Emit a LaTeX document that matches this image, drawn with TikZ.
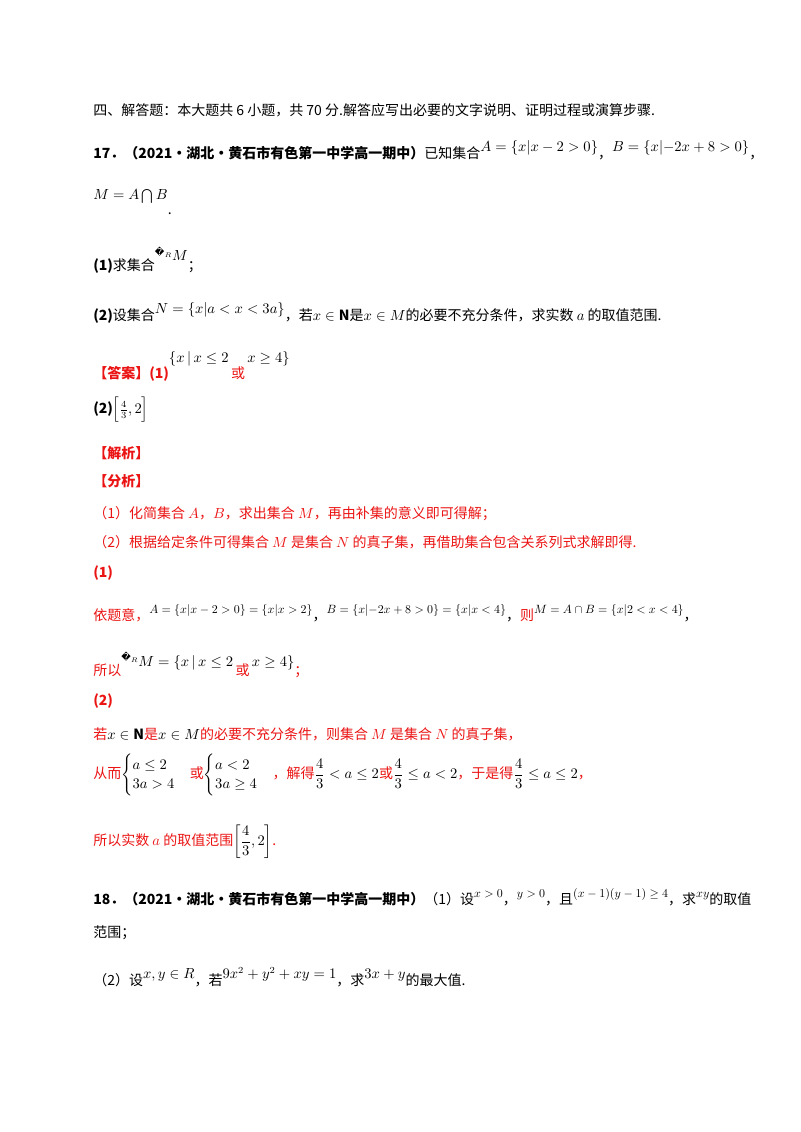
\documentclass[tikz,border=0pt]{standalone}
\usepackage{fontspec}
\usepackage{amsmath,amssymb}
\setmainfont{Noto Sans CJK SC}
\newfontfamily\djv{DejaVu Sans}
\definecolor{rd}{RGB}{235,20,20}
\newcommand{\rz}[1]{\raisebox{5pt}{#1}}
\newcommand{\sm}[1]{\scalebox{0.82}{#1}}
\newcommand{\cR}{\raisebox{4pt}{{\djv\fontsize{7}{7}\selectfont\char"FFFD}$_{\scriptscriptstyle R}$}}
\begin{document}
\begin{tikzpicture}[x=0.75pt,y=-0.75pt,
  ln/.style={anchor=west,inner sep=0pt,font=\fontsize{10.5}{12}\selectfont},
  rl/.style={ln,text=rd}]
\useasboundingbox (0,0) rectangle (800,1132);
\node[ln] (l1) at (93,110) {四、解答题：本大题共 6 小题，共 70 分.解答应写出必要的文字说明、证明过程或演算步骤.};
\node[ln] (l2) at (93,150) {\textbf{17．（2021·湖北·黄石市有色第一中学高一期中）}已知集合\rz{$A=\left\{x\middle|x-2>0\right\}$}，\rz{$B=\left\{x\middle|-2x+8>0\right\}$}，};
\node[ln] (l3) at (93,202) {\rz{$M=A\bigcap B$}\raisebox{-6pt}{.}};
\node[ln] (l4) at (93,260) {\textbf{(1)}求集合\raisebox{7pt}{\cR$M$}；};
\node[ln] (l5) at (93,313) {\textbf{(2)}设集合\rz{$N=\left\{x\middle|a<x<3a\right\}$}，若$x\in\mathbf{N}$是$x\in M$的必要不充分条件，求实数 $a$ 的取值范围.};
\node[ln] (l6) at (93,366) {\textbf{\color{rd}【答案】(1)}\raisebox{12pt}{$\{x\,|\,x\le 2$}\,{\color{rd}或}\,\raisebox{12pt}{$x\ge 4\}$}};
\node[ln] (l7) at (93,410) {\textbf{(2)}$\Bigl[\tfrac{4}{3},2\Bigr]$};
\node[rl] (l8) at (93,453) {\textbf{【解析】}};
\node[rl] (l9) at (93,481) {\textbf{【分析】}};
\node[rl] (l10) at (93,514) {（1）化简集合 $A$，$B$，求出集合 $M$，再由补集的意义即可得解；};
\node[rl] (l11) at (93,542) {（2）根据给定条件可得集合 $M$ 是集合 $N$ 的真子集，再借助集合包含关系列式求解即得.};
\node[rl] (l12) at (93,573) {\textbf{(1)}};
\node[rl] (l13) at (93,613) {依题意，\color{black}\rz{\sm{$A=\left\{x\middle|x-2>0\right\}=\left\{x\middle|x>2\right\}$}}，\rz{\sm{$B=\left\{x\middle|-2x+8>0\right\}=\left\{x\middle|x<4\right\}$}}，\color{rd}则\color{black}\rz{\sm{$M=A\cap B=\left\{x\middle|2<x<4\right\}$}}，};
\node[rl] (l14) at (93,665) {所以\color{black}\raisebox{7pt}{\cR$M=\{x\,|\,x\le 2$}\,\color{rd}或\,\color{black}\raisebox{7pt}{$x\ge 4\}$}\color{rd}；};
\node[rl] (l15) at (93,701) {\textbf{(2)}};
\node[rl] (l16) at (93,734) {若{\color{black}$x\in\mathbf{N}$}是{\color{black}$x\in M$}的必要不充分条件，则集合 $M$ 是集合 $N$ 的真子集，};
\node[rl] (l17) at (93,775) {从而{\color{black}$\begin{cases}a\le 2\\3a>4\end{cases}$}或{\color{black}$\begin{cases}a<2\\3a\ge 4\end{cases}$}，解得{\color{black}$\dfrac43<a\le 2$}或{\color{black}$\dfrac43\le a<2$}，于是得{\color{black}$\dfrac43\le a\le 2$}，};
\node[rl] (l18) at (93,842) {所以实数 $a$ 的取值范围{\color{black}$\left[\dfrac{4}{3},2\right]$}.};
\node[ln] (l19) at (93,897) {\textbf{18．（2021·湖北·黄石市有色第一中学高一期中）}（1）设\rz{\sm{$x>0$}}，\rz{\sm{$y>0$}}，且\rz{\sm{$(x-1)(y-1)\ge 4$}}，求\rz{\sm{$xy$}}的取值};
\node[ln] (l20) at (93,933) {范围；};
\node[ln] (l21) at (93,977) {（2）设\rz{$x,y\in R$}，若\rz{$9x^2+y^2+xy=1$}，求\rz{$3x+y$}的最大值.};
\end{tikzpicture}
\end{document}
